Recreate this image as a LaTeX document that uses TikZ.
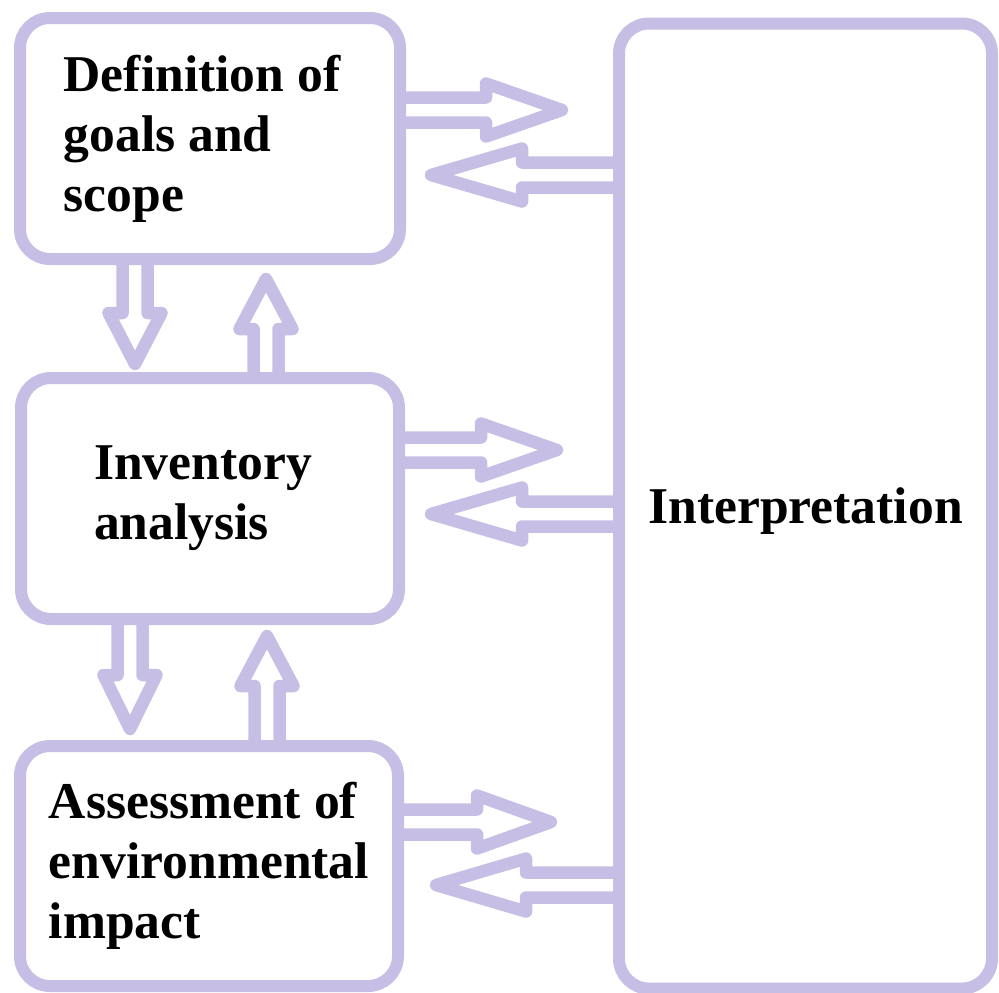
\documentclass[tikz,border=0pt]{standalone}
\usepackage{fontspec}
\setmainfont{Liberation Serif}
\usetikzlibrary{calc}
\definecolor{lilac}{RGB}{198,190,228}

\tikzset{
    stage/.style={draw=lilac, line width=6pt, rounded corners=15pt, outer sep=0pt,
        inner sep=0pt, align=left, font=\fontsize{25.8}{30}\selectfont\bfseries},
    flow/.style={draw=lilac, line width=6.25pt, line join=round}
}

% hollow block arrow: #1 head length, #2 start, #3 tip
\newcommand{\blockarrow}[3]{%
    \coordinate (hb) at ($#3!#1!#2$);
    \draw[flow] ($#2!6.25pt!90:#3$) -- ($(hb)!6.25pt!90:#3$) -- ($(hb)!13.25pt!90:#3$) -- #3
        -- ($(hb)!13.25pt!-90:#3$) -- ($(hb)!6.25pt!-90:#3$) -- ($#2!6.25pt!-90:#3$);
}

\begin{document}
\begin{tikzpicture}[x=0.5pt,y=-0.5pt]
    \useasboundingbox (0,0) rectangle (999,992);

    % the four stages
    \node[stage, minimum width=190pt, minimum height=120.5pt] (def) at (210,138.5)
        {Definition of\hspace*{8pt}\\goals and\\scope};
    \node[stage, minimum width=189pt, minimum height=120.5pt] (inv) at (210,498.5)
        {Inventory\hspace*{7pt}\\analysis};
    \node[stage, minimum width=189pt, minimum height=120pt] (ass) at (209,866)
        {Assessment of\\environmental\\impact};
    \node[stage, minimum width=186.5pt, minimum height=482.5pt, text depth=0pt] (interp) at (805.5,506)
        {Interpretation};

    % ends of the arrows towards and from the interpretation
    \coordinate (defout) at (def.east |- 0,110);
    \coordinate (defin)  at (431,175);
    \coordinate (invout) at (inv.east |- 0,450);
    \coordinate (invin)  at (431,514);
    \coordinate (assout) at (ass.east |- 0,822);
    \coordinate (assin)  at (436,885);

    % def <-> interp
    \blockarrow{38pt}{(defout)}{(562,110)}
    \blockarrow{45.5pt}{(interp.west |- defin)}{(defin)}

    % inv <-> interp
    \blockarrow{38pt}{(invout)}{(557,450)}
    \blockarrow{45.5pt}{(interp.west |- invin)}{(invin)}

    % ass <-> interp
    \blockarrow{37pt}{(assout)}{(551,822)}
    \blockarrow{45pt}{(interp.west |- assin)}{(assin)}

    % def <-> inv
    \blockarrow{25.5pt}{(def.south -| 135,0)}{([yshift=7pt]inv.north -| 135,0)}
    \blockarrow{25pt}{(inv.north -| 266,0)}{([yshift=-10pt]def.south -| 266,0)}

    % inv <-> ass
    \blockarrow{27pt}{(inv.south -| 130,0)}{([yshift=8.5pt]ass.north -| 130,0)}
    \blockarrow{25pt}{(ass.north -| 267,0)}{([yshift=-8.5pt]inv.south -| 267,0)}
\end{tikzpicture}
\end{document}
